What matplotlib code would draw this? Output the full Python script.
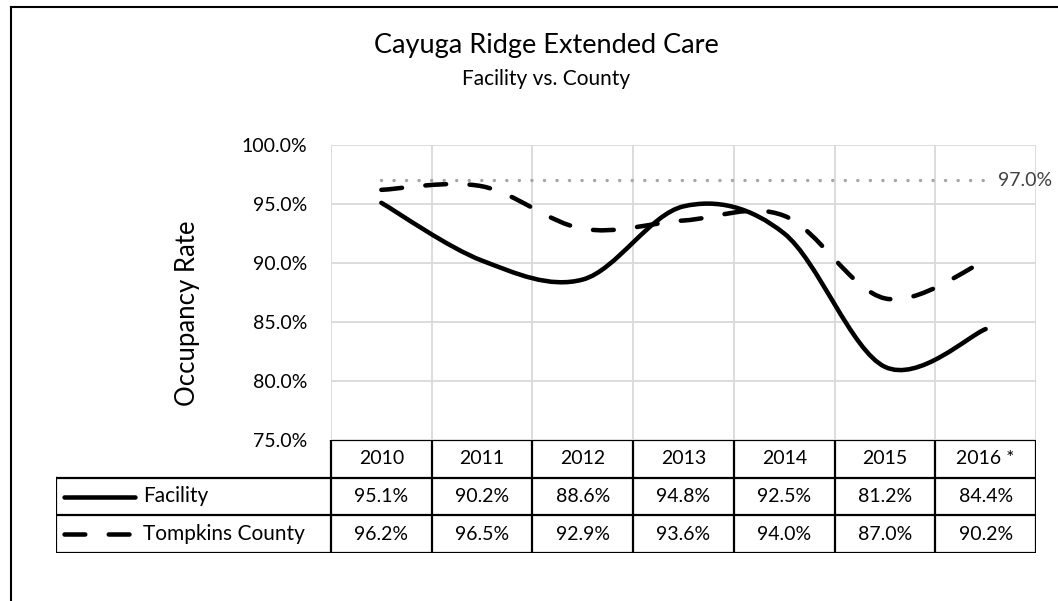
import numpy as np
import matplotlib.pyplot as plt
from matplotlib.path import Path
from matplotlib.patches import PathPatch
from matplotlib.lines import Line2D

years = ['2010', '2011', '2012', '2013', '2014', '2015', '2016 *']
facility = [95.1, 90.2, 88.6, 94.8, 92.5, 81.2, 84.4]
county = [96.2, 96.5, 92.9, 93.6, 94.0, 87.0, 90.2]
target = 97.0
names = ['Facility', 'Tompkins County']

W, H = 1058, 601
plt.rcParams['font.family'] = ['Lato', 'DejaVu Sans']
fs = 14


def smooth_path(xs, ys):
    # excel style smoothed line -> catmull-rom segments as cubic beziers
    pts = np.column_stack([xs, ys]).astype(float)
    pad = np.vstack([pts[0], pts, pts[-1]])
    verts = [pts[0]]
    codes = [Path.MOVETO]
    for i in range(len(pts) - 1):
        p0, p1, p2, p3 = pad[i], pad[i + 1], pad[i + 2], pad[i + 3]
        verts += [p1 + (p2 - p0) / 6, p2 - (p3 - p1) / 6, p2]
        codes += [Path.CURVE4] * 3
    return Path(verts, codes)


fig = plt.figure(figsize=(W / 100, H / 100), dpi=100)

# chart border (only left and top visible in the crop)
fig.add_artist(Line2D([11 / W, 11 / W], [0, 1 - 7 / H], color='black', lw=1.5, transform=fig.transFigure))
fig.add_artist(Line2D([11 / W, 1], [1 - 7 / H, 1 - 7 / H], color='black', lw=1.5, transform=fig.transFigure))

ax = fig.add_axes([331 / W, 1 - 440 / H, 705 / W, 295 / H])
x = np.arange(len(years)) + 0.5
ax.set_xlim(0, len(years))
ax.set_ylim(75, 100)
ax.set_yticks(np.arange(75, 100.1, 5))
ax.set_yticklabels(['{:.1f}%'.format(v) for v in np.arange(75, 100.1, 5)], fontsize=fs)
ax.set_xticks(np.arange(len(years) + 1))
ax.set_xticklabels([])
ax.tick_params(length=0, pad=17)
ax.grid(True, color='#d9d9d9', lw=1.3)
ax.set_axisbelow(True)
for s in ax.spines.values():
    s.set_visible(False)

ax.plot([x[0], x[-1]], [target, target], color='#a6a6a6', lw=2.5,
        ls=(0, (0.01, 3.6)), dash_capstyle='round')
ax.annotate('{:.1f}%'.format(target), (x[-1], target), xytext=(9, 0),
            textcoords='offset points', va='center', ha='left',
            fontsize=fs, color='#404040', annotation_clip=False)

ax.add_patch(PathPatch(smooth_path(x, facility), fill=False, color='black',
                       lw=3.25, capstyle='round', joinstyle='round'))
ax.add_patch(PathPatch(smooth_path(x, county), fill=False, color='black',
                       lw=3.25, ls=(0, (4.6, 5.2)), capstyle='round', joinstyle='round'))

# data table under the plot
tax = fig.add_axes([56 / W, 1 - 553 / H, (1036 - 56) / W, 113 / H])
left = -275 / 100.7
tax.set_xlim(left, len(years))
tax.set_ylim(3, 0)
tax.axis('off')
kw = dict(color='black', lw=1.6, solid_capstyle='projecting')
tax.plot([0, len(years)], [0, 0], **kw)
for r in [1, 2, 3]:
    tax.plot([left, len(years)], [r, r], **kw)
for c in range(len(years) + 1):
    tax.plot([c, c], [0, 3], **kw)
tax.plot([left, left], [1, 3], **kw)

for i, yr in enumerate(years):
    tax.text(i + 0.5, 0.5, yr, ha='center', va='center', fontsize=fs)
    tax.text(i + 0.5, 1.5, '{:.1f}%'.format(facility[i]), ha='center', va='center', fontsize=fs)
    tax.text(i + 0.5, 2.5, '{:.1f}%'.format(county[i]), ha='center', va='center', fontsize=fs)

tax.plot([-2.65, -1.95], [1.5, 1.5], color='black', lw=3.25, solid_capstyle='round')
tax.plot([-2.65, -1.95], [2.5, 2.5], color='black', lw=3.25, ls=(0, (4.6, 5.2)), dash_capstyle='round')
tax.text(-1.87, 1.5, names[0], ha='left', va='center', fontsize=15)
tax.text(-1.87, 2.5, names[1], ha='left', va='center', fontsize=15)

fig.text(546 / W, 1 - 45 / H, 'Cayuga Ridge Extended Care', ha='center', va='center', fontsize=19.5)
fig.text(546 / W, 1 - 79 / H, 'Facility vs. County', ha='center', va='center', fontsize=15)
fig.text(187 / W, 1 - 313 / H, 'Occupancy Rate', ha='center', va='center', rotation=90, fontsize=18.5)

fig.savefig('out.png', dpi=100)
